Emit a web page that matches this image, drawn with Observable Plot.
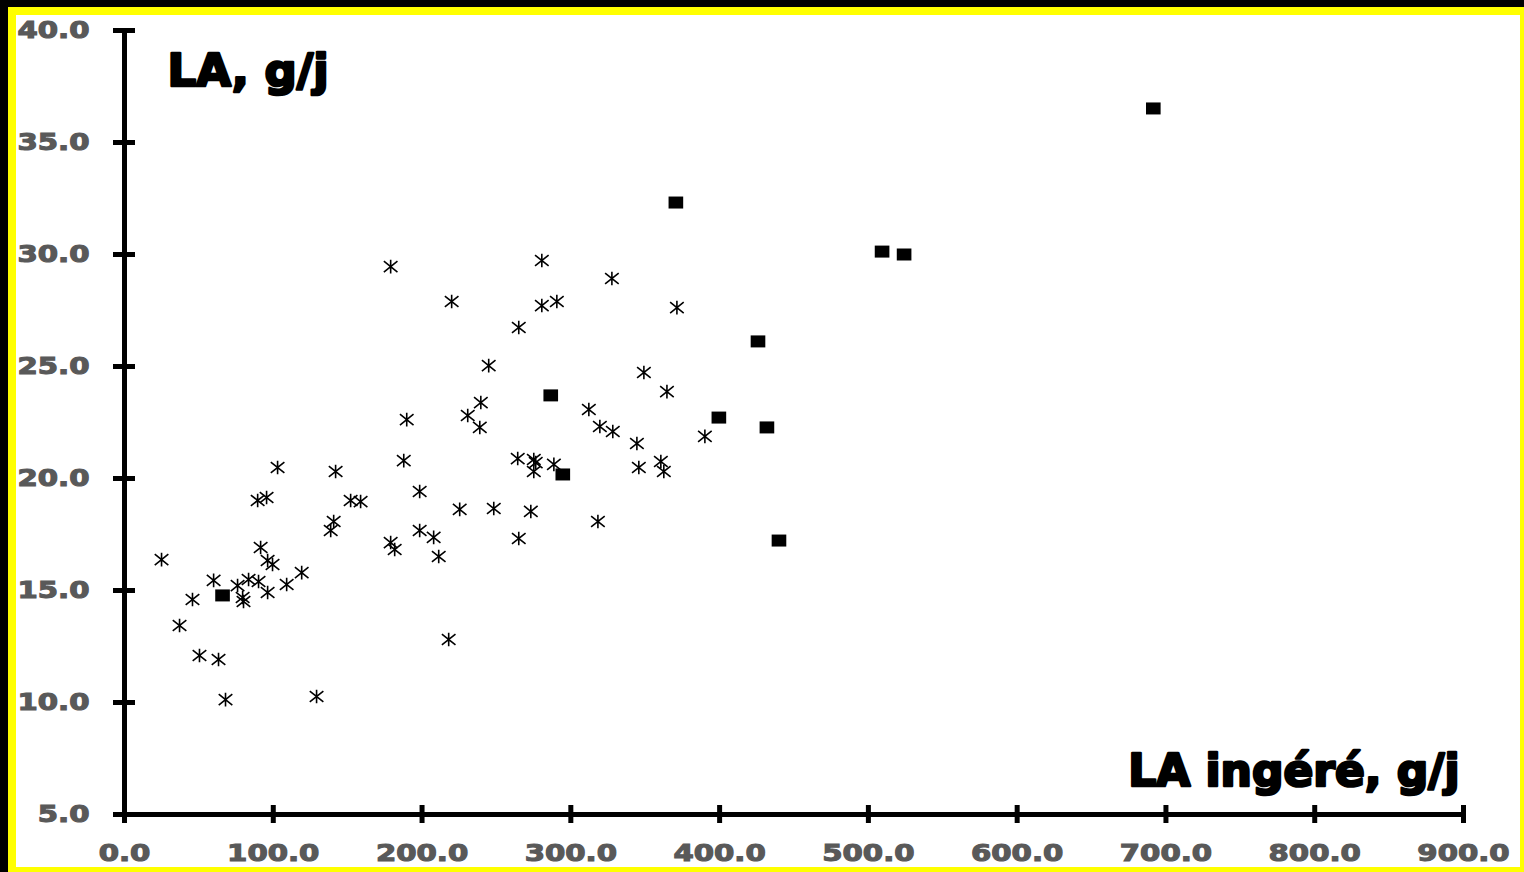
<!DOCTYPE html>
<html>
<head>
<meta charset="utf-8">
<script src="https://cdn.jsdelivr.net/npm/d3@7"></script>
<script src="https://cdn.jsdelivr.net/npm/@observablehq/plot@0.6"></script>
<style>
  html, body { margin: 0; padding: 0; background: #000; width: 1524px; height: 872px; overflow: hidden; }
  #yellow { position: absolute; left: 8px; top: 7px; width: 1516px; height: 865px; background: #ffff00; }
  #white { position: absolute; left: 16px; top: 15px; width: 1504px; height: 852px; background: #ffffff; }
  #chart { position: absolute; left: 0; top: 0; }
</style>
</head>
<body>
<div id="yellow"></div>
<div id="white"></div>
<div id="chart"></div>
<script>
// Tick values
const xTicks = [0, 100, 200, 300, 400, 500, 600, 700, 800, 900];
const yTicks = [5, 10, 15, 20, 25, 30, 35, 40];

// Axis titles
const yTitle = "LA, g/j";
const xTitle = "LA ingéré, g/j";

// Series 1 (asterisks)
const starX = [24.9, 37.0, 45.7, 50.4, 59.9, 63.2, 67.9, 76.0, 79.4, 80.0,
  83.4, 89.5, 90.1, 91.5, 95.5, 96.2, 96.2, 99.5, 102.9, 109.0,
  119.1, 129.1, 138.6, 140.6, 141.9, 152.0, 158.7, 178.9, 178.9, 181.6,
  187.7, 189.7, 198.4, 198.4, 207.8, 211.2, 217.9, 219.9, 225.3, 230.7,
  239.5, 238.8, 244.8, 248.2, 264.3, 265.0, 265.0, 273.1, 275.1, 276.4,
  275.1, 280.5, 280.5, 288.6, 290.6, 312.1, 318.2, 319.5, 327.6, 328.2,
  344.4, 345.7, 349.1, 360.5, 362.5, 364.6, 371.3, 390.1];
const starY = [16.38, 13.44, 14.60, 12.10, 15.45, 11.92, 10.13, 15.22, 14.69, 14.51,
  15.49, 19.02, 15.40, 16.92, 19.15, 14.91, 16.34, 16.16, 20.49, 15.27,
  15.80, 10.27, 17.68, 18.08, 20.31, 19.02, 18.97, 29.46, 17.14, 16.83,
  20.80, 22.63, 19.42, 17.68, 17.37, 16.52, 12.81, 27.90, 18.62, 22.81,
  23.39, 22.28, 25.04, 18.66, 20.89, 17.32, 26.74, 18.53, 20.85, 20.71,
  20.31, 29.73, 27.72, 20.63, 27.90, 23.08, 18.08, 22.32, 28.93, 22.10,
  21.56, 20.49, 24.73, 20.76, 20.31, 23.88, 27.63, 21.88];

// Series 2 (squares)
const sqX = [65.9, 286.5, 294.6, 370.6, 399.5, 425.8, 431.8, 439.9, 509.2, 524.0, 691.5];
const sqY = [14.78, 23.71, 20.18, 32.32, 22.72, 26.12, 22.28, 17.23, 30.13, 30.00, 36.52];

const stars = starX.map((x, i) => ({x, y: starY[i]}));
const squares = sqX.map((x, i) => ({x, y: sqY[i]}));

// Marker shapes (Excel-like star and square)
const starSymbol = {
  draw(ctx, size) {
    const r = Math.sqrt(size / Math.PI);
    ctx.moveTo(0, -r); ctx.lineTo(0, r);
    const a = r, b = r * 0.8;
    ctx.moveTo(-a, -b); ctx.lineTo(a, b);
    ctx.moveTo(-a, b); ctx.lineTo(a, -b);
  }
};
const squareSymbol = {
  draw(ctx, size) {
    const r = Math.sqrt(size / Math.PI);
    const w = r * 1.22;
    ctx.rect(-w, -r, 2 * w, 2 * r);
  }
};

const fmt = d3.format(".1f");
const font = "'DejaVu Sans', 'Liberation Sans', sans-serif";

const plot = Plot.plot({
  width: 1524,
  height: 872,
  marginLeft: 124,
  marginRight: 61,
  marginTop: 30,
  marginBottom: 58,
  style: {background: "transparent", overflow: "visible", fontFamily: font},
  x: {domain: [0, 900]},
  y: {domain: [5, 40]},
  marks: [
    Plot.axisX({ticks: xTicks, tickSize: 18, dy: -9, strokeWidth: 5, stroke: "#000", fill: "none", label: null}),
    Plot.axisX({ticks: xTicks, tickSize: 0, tickPadding: 30, tickFormat: fmt, fill: "#595959",
      fontSize: 23, fontWeight: "bold", label: null}),
    Plot.axisY({ticks: yTicks, tickSize: 22, dx: 11, strokeWidth: 5, stroke: "#000", fill: "none", label: null}),
    Plot.axisY({ticks: yTicks, tickSize: 0, tickPadding: 35, tickFormat: fmt, fill: "#595959",
      fontSize: 23, fontWeight: "bold", label: null}),
    Plot.ruleX([0], {strokeWidth: 5, stroke: "#000"}),
    Plot.ruleY([5], {strokeWidth: 5, stroke: "#000"}),
    Plot.dot(stars, {x: "x", y: "y", symbol: starSymbol, r: 6.8, stroke: "#000", strokeWidth: 1.6, fill: "none"}),
    Plot.dot(squares, {x: "x", y: "y", symbol: squareSymbol, r: 6, fill: "#000", stroke: "none"}),
    Plot.text([yTitle], {frameAnchor: "top-left", dx: 43, dy: 41, textAnchor: "start", lineAnchor: "middle",
      fontSize: 45, fontWeight: "bold", fill: "#000", stroke: "#000", strokeWidth: 2.6}),
    Plot.text([xTitle], {frameAnchor: "bottom-right", dx: -4, dy: -43, textAnchor: "end", lineAnchor: "middle",
      fontSize: 44, fontWeight: "bold", fill: "#000", stroke: "#000", strokeWidth: 2.6})
  ]
});

document.getElementById("chart").appendChild(plot);

// Widen the tick labels (the reference uses a wide heavy face)
d3.select(plot).selectAll('g[aria-label="x-axis tick label"] text, g[aria-label="y-axis tick label"] text')
  .attr("transform", function() { return (this.getAttribute("transform") || "") + " scale(1.27,1)"; })
  .attr("stroke", "#595959")
  .attr("stroke-width", 1.1);
</script>
</body>
</html>
